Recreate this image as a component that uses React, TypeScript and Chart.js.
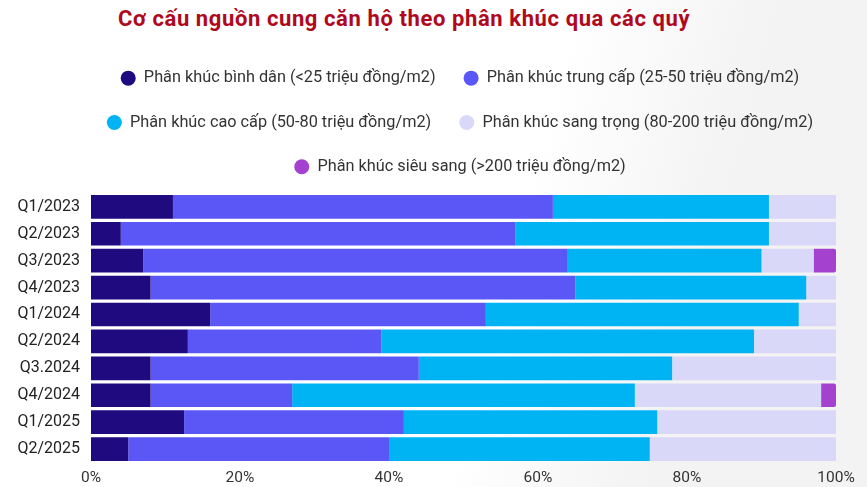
import React, { useEffect, useRef } from "react";
import { Chart, registerables } from "chart.js";

Chart.register(...registerables);

const categories = [
  "Q1/2023", "Q2/2023", "Q3/2023", "Q4/2023", "Q1/2024",
  "Q2/2024", "Q3.2024", "Q4/2024", "Q1/2025", "Q2/2025",
];

const binhDan = [11, 4, 7, 8, 16, 13, 8, 8, 12.5, 5];
const trungCap = [51, 53, 57, 57, 37, 26, 36, 19, 29.5, 35];
const caoCap = [29, 34, 26, 31, 42, 50, 34, 46, 34, 35];
const sangTrong = [9, 9, 7, 4, 5, 11, 22, 25, 24, 25];
const sieuSang = [0, 0, 3, 0, 0, 0, 0, 2, 0, 0];

const seriesNames = [
  "Phân khúc bình dân (<25 triệu đồng/m2)",
  "Phân khúc trung cấp (25-50 triệu đồng/m2)",
  "Phân khúc cao cấp (50-80 triệu đồng/m2)",
  "Phân khúc sang trọng (80-200 triệu đồng/m2)",
  "Phân khúc siêu sang (>200 triệu đồng/m2)",
];
const seriesColors = ["#1f0a80", "#5b57f7", "#00b4f4", "#d9d8f8", "#a541cf"];

const xTicks = [0, 20, 40, 60, 80, 100];
const titleText = "Cơ cấu nguồn cung căn hộ theo phân khúc qua các quý";

const legendBox = { left: 60, right: 860 };

const legendMargin = {
  id: "legendMargin",
  beforeInit(chart: any) {
    const orig = chart.legend.fit;
    chart.legend.fit = function () {
      this.maxWidth = Math.max(this.maxWidth || 0, legendBox.right - legendBox.left);
      orig.bind(chart.legend)();
      this.height += 8.5;
    };
  },
  afterLayout(chart: any) {
    const lg = chart.legend;
    if (!lg) return;
    lg.left = legendBox.left;
    lg.right = legendBox.right;
    lg.width = legendBox.right - legendBox.left;
  },
};

export default function App() {
  const ref = useRef<HTMLCanvasElement | null>(null);

  useEffect(() => {
    if (!ref.current) return;
    const values = [binhDan, trungCap, caoCap, sangTrong, sieuSang];
    const chart = new Chart(ref.current, {
      type: "bar",
      data: {
        labels: categories,
        datasets: values.map((d, i) => ({
          label: seriesNames[i],
          data: d,
          backgroundColor: seriesColors[i],
          borderWidth: 0,
          borderRadius: i === 4 ? 2 : 0,
          barPercentage: 0.88,
          categoryPercentage: 1,
          stack: "s",
        })),
      },
      options: {
        indexAxis: "y",
        animation: false,
        responsive: true,
        maintainAspectRatio: false,
        layout: { padding: { top: 42, left: 16, right: 31, bottom: 0 } },
        plugins: {
          title: { display: false },
          tooltip: { enabled: false },
          legend: {
            display: true,
            position: "top",
            fullSize: false,
            labels: {
              usePointStyle: true,
              pointStyle: "circle",
              pointStyleWidth: 15,
              boxHeight: 10.6,
              padding: 28,
              color: "#333333",
              font: { family: "Roboto", size: 16.3 },
            },
          },
        },
        scales: {
          x: {
            stacked: true,
            min: 0,
            max: 100,
            afterBuildTicks: (axis: any) => {
              axis.ticks = xTicks.map((v) => ({ value: v }));
            },
            afterFit: (scale: any) => {
              scale.height = 24.5;
            },
            grid: { display: false, drawTicks: false },
            border: { display: false },
            ticks: {
              padding: 6,
              color: "#333333",
              font: { family: "Roboto", size: 15.5 },
              callback: (v: any) => v + "%",
            },
          },
          y: {
            stacked: true,
            afterFit: (scale: any) => {
              scale.width = 75;
            },
            grid: { display: false, drawTicks: false },
            border: { display: false },
            ticks: {
              autoSkip: false,
              padding: 11,
              color: "#222222",
              font: { family: "Roboto", size: 16 },
            },
          },
        },
      },
      plugins: [legendMargin],
    });
    return () => chart.destroy();
  }, []);

  return (
    <div
      style={{
        position: "fixed",
        left: 0,
        top: 0,
        width: 867,
        height: 487,
        background: "linear-gradient(105deg, #ffffff 58%, #f3f3f3 78%)",
        overflow: "hidden",
      }}
    >
      <div
        style={{
          position: "absolute",
          left: 118,
          top: 5.5,
          fontFamily: "Roboto",
          fontWeight: 700,
          fontSize: 22,
          letterSpacing: "0.6px",
          color: "#b0081c",
          whiteSpace: "nowrap",
        }}
      >
        {titleText}
      </div>
      <canvas ref={ref} style={{ position: "absolute", left: 0, top: 0, width: 867, height: 487 }} />
    </div>
  );
}
